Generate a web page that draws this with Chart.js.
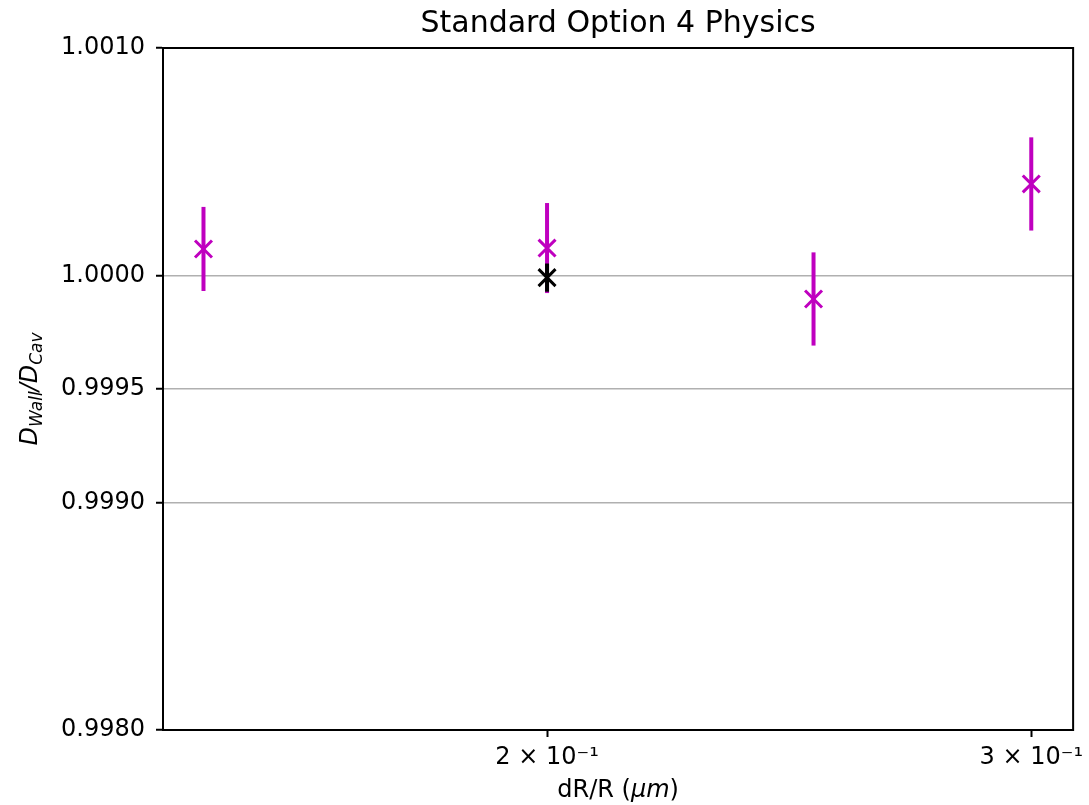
<!DOCTYPE html>
<html>
<head>
<meta charset="utf-8">
<script src="https://cdn.jsdelivr.net/npm/chart.js@4.4.1/dist/chart.umd.min.js"></script>
<style>
  html, body { margin: 0; padding: 0; background: #fff; }
  #wrap { width: 1089px; height: 805px; }
</style>
</head>
<body>
<div id="wrap"><canvas id="chart" width="1089" height="805"></canvas></div>
<script>
const xValues = [0.15, 0.2, 0.25, 0.3];
const ratioValues = [1.000116, 1.000120, 0.999896, 1.000402];
const ratioErrors = [0.000185, 0.000198, 0.000205, 0.000205];
const refX = [0.2];
const refValues = [0.99999];
const refErrors = [0.000062];
const xTicks = [0.2, 0.3];
const xTickLabels = ['2 \u00d7 10\u207b\u00b9', '3 \u00d7 10\u207b\u00b9'];
const yTicks = [0.998, 0.999, 0.9995, 1.0, 1.001];

const MAGENTA = '#bf00bf';
const FONT = 'DejaVu Sans';
const PLOT_RIGHT = 1078;

const toPoints = (xs, ys) => xs.map((x, i) => ({ x: x, y: ys[i] }));

// vertical error bars, drawn through the chart scales
const errorBars = {
  id: 'errorBars',
  beforeDatasetsDraw(chart) {
    const { ctx, scales: { x, y } } = chart;
    const sets = [[xValues, ratioValues, ratioErrors, MAGENTA], [refX, refValues, refErrors, '#000']];
    ctx.save();
    ctx.lineWidth = 4;
    sets.forEach(([xs, ys, es, col]) => {
      ctx.strokeStyle = col;
      xs.forEach((v, i) => {
        const px = x.getPixelForValue(v);
        ctx.beginPath();
        ctx.moveTo(px, y.getPixelForValue(ys[i] - es[i]));
        ctx.lineTo(px, y.getPixelForValue(ys[i] + es[i]));
        ctx.stroke();
      });
    });
    ctx.restore();
  }
};

// frame, title and axis labels
const decor = {
  id: 'decor',
  afterDraw(chart) {
    const { ctx, chartArea: a } = chart;
    ctx.save();
    ctx.strokeStyle = '#000';
    ctx.lineWidth = 2;
    ctx.strokeRect(a.left, a.top, a.right - a.left, a.bottom - a.top);

    ctx.fillStyle = '#000';
    ctx.textAlign = 'center';
    ctx.textBaseline = 'alphabetic';
    ctx.font = '30px "' + FONT + '"';
    ctx.fillText('Standard Option 4 Physics', (a.left + a.right) / 2, 32);

    // x label: dR/R (μm) with italic μm
    const cx = (a.left + a.right) / 2, by = 797;
    const p1 = 'dR/R (', p3 = ')';
    ctx.font = 'italic 24px "' + FONT + '"';
    const w2 = ctx.measureText('\u03bcm').width;
    ctx.font = '24px "' + FONT + '"';
    const w1 = ctx.measureText(p1).width, w3 = ctx.measureText(p3).width;
    let sx = cx - (w1 + w2 + w3) / 2;
    ctx.textAlign = 'left';
    ctx.fillText(p1, sx, by);
    ctx.font = 'italic 24px "' + FONT + '"';
    ctx.fillText('\u03bcm', sx + w1, by);
    ctx.font = '24px "' + FONT + '"';
    ctx.fillText(p3, sx + w1 + w2, by);

    // y label: D_Wall / D_Cav, rotated
    ctx.translate(37, (a.top + a.bottom) / 2);
    ctx.rotate(-Math.PI / 2);
    const parts = [
      ['D', 'italic 24px', 0], ['Wall', 'italic 17px', 5], ['/', 'italic 24px', 0],
      ['D', 'italic 24px', 0], ['Cav', 'italic 17px', 5]
    ];
    let total = 0;
    parts.forEach(p => { ctx.font = p[1] + ' "' + FONT + '"'; total += ctx.measureText(p[0]).width; });
    let ox = -total / 2;
    parts.forEach(p => {
      ctx.font = p[1] + ' "' + FONT + '"';
      ctx.fillText(p[0], ox, p[2]);
      ox += ctx.measureText(p[0]).width;
    });
    ctx.restore();
  }
};

const chart = new Chart(document.getElementById('chart'), {
  type: 'scatter',
  data: {
    datasets: [
      {
        label: 'Option 4',
        data: toPoints(xValues, ratioValues),
        pointStyle: 'crossRot',
        pointRadius: 12,
        pointBorderWidth: 3,
        borderColor: MAGENTA,
        backgroundColor: MAGENTA
      },
      {
        label: 'Reference',
        data: toPoints(refX, refValues),
        pointStyle: 'crossRot',
        pointRadius: 12,
        pointBorderWidth: 3,
        borderColor: '#000',
        backgroundColor: '#000'
      }
    ]
  },
  options: {
    responsive: false,
    animation: false,
    devicePixelRatio: 1,
    layout: { autoPadding: false, padding: { top: 48, right: 11, left: 0, bottom: 0 } },
    plugins: {
      legend: { display: false },
      tooltip: { enabled: false },
      title: { display: false }
    },
    scales: {
      x: {
        type: 'logarithmic',
        min: 0.1450,
        max: 0.3107,
        afterBuildTicks: s => { s.ticks = xTicks.map(v => ({ value: v })); },
        afterFit: s => { s.height = 75; },
        ticks: {
          autoSkip: false,
          maxRotation: 0,
          padding: 6,
          color: '#000',
          font: { family: FONT, size: 24 },
          callback: v => xTickLabels[xTicks.indexOf(v)] || ''
        },
        grid: { drawOnChartArea: false, tickLength: 7, tickColor: '#000', tickWidth: 2 },
        border: { display: true, color: '#000', width: 2 }
      },
      y: {
        type: 'linear',
        min: 0.998,
        max: 1.001,
        afterBuildTicks: s => { s.ticks = yTicks.map(v => ({ value: v })); },
        afterFit: s => { s.width = 163; },
        ticks: {
          autoSkip: false,
          padding: 11,
          color: '#000',
          font: { family: FONT, size: 24 },
          callback: v => v.toFixed(4)
        },
        grid: {
          tickLength: 7,
          tickColor: '#000',
          tickWidth: 2,
          lineWidth: 1.5,
          color: c => (c.tick && (c.tick.value === 0.998 || c.tick.value === 1.001)) ? 'rgba(0,0,0,0)' : '#b0b0b0'
        },
        border: { display: true, color: '#000', width: 2 }
      }
    }
  },
  plugins: [errorBars, decor]
});

// nudge the right padding so the plot box ends where the reference's does
for (let i = 0; i < 3; i++) {
  const diff = chart.chartArea.right - PLOT_RIGHT;
  if (Math.abs(diff) < 0.5) break;
  chart.options.layout.padding.right = Math.max(0, chart.options.layout.padding.right + diff);
  chart.update();
}
</script>
</body>
</html>
